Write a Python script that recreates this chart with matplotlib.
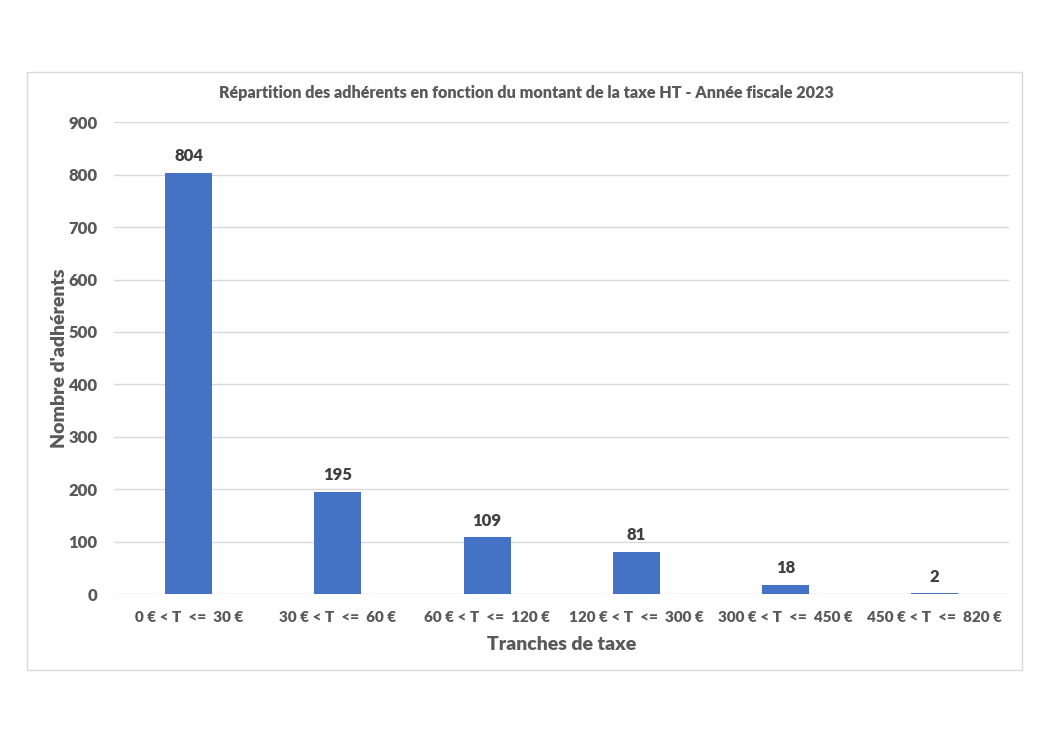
import matplotlib.pyplot as plt
from matplotlib.patches import Rectangle

# data
tranches = ["0 € < T  <=  30 €", "30 € < T  <=  60 €", "60 € < T  <=  120 €",
            "120 € < T  <=  300 €", "300 € < T  <=  450 €", "450 € < T  <=  820 €"]
adherents = [804, 195, 109, 81, 18, 2]

plt.rcParams['font.family'] = ['Lato', 'DejaVu Sans']
grey = '#595959'

fig = plt.figure(figsize=(10.52, 7.44), dpi=100)
fig.patches.append(Rectangle((0.0257, 0.0995), 0.9458, 0.8037, transform=fig.transFigure,
                             fill=False, edgecolor='#D9D9D9', lw=1))

ax = fig.add_axes([0.1084, 0.2016, 0.851, 0.634])
x = range(len(tranches))
bars = ax.bar(x, adherents, width=0.315, color='#4472C4', zorder=3)
for b, v in zip(bars, adherents):
    ax.annotate(str(v), (b.get_x() + b.get_width() / 2, v), xytext=(0, 6),
                textcoords='offset points', ha='center', va='bottom',
                fontsize=12, fontweight='heavy', color='#404040')

ax.set_xlim(-0.5, len(tranches) - 0.5)
ax.set_ylim(0, 900)
ax.set_yticks(range(0, 901, 100))
ax.set_xticks(list(x))
ax.set_xticklabels(tranches)
ax.grid(axis='y', color='#D9D9D9', lw=1, zorder=0)
for s in ax.spines.values():
    s.set_visible(False)
ax.tick_params(length=0, colors=grey, labelsize=12)
ax.tick_params(axis='y', pad=12)
ax.tick_params(axis='x', pad=12, labelsize=11)
for lab in ax.get_xticklabels() + ax.get_yticklabels():
    lab.set_fontweight('heavy')

ax.set_ylabel("Nombre d'adhérents", fontsize=14, fontweight='heavy', color=grey, labelpad=0)
ax.set_xlabel("Tranches de taxe", fontsize=14, fontweight='heavy', color=grey, labelpad=9)
fig.text(0.5, 0.875, "Répartition des adhérents en fonction du montant de la taxe HT - Année fiscale 2023",
         ha='center', va='center', fontsize=11.6, fontweight='heavy', color=grey)

fig.savefig("out.png", dpi=100, facecolor='white')
